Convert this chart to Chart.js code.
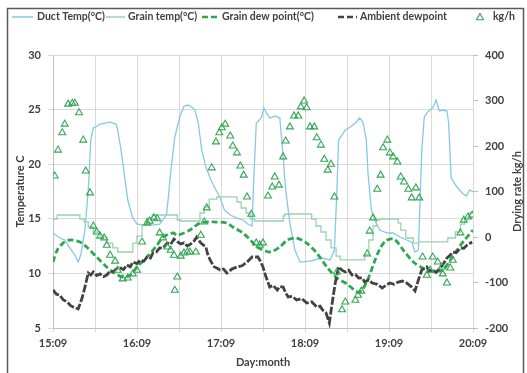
<!DOCTYPE html>
<html><head><meta charset="utf-8">
<script src="https://cdn.jsdelivr.net/npm/chart.js@4.4.0/dist/chart.umd.min.js"></script>
<style>html,body{margin:0;padding:0;background:#fff;}#wrap{width:527px;height:373px;}</style>
</head><body><div id="wrap"><canvas id="c" width="527" height="373"></canvas></div>
<script>
// x values are days after 15:09 (0 = 15:09, 5 = 20:09)
const dayLabels = ['15:09','16:09','17:09','18:09','19:09','20:09'];
const seriesNames = ['Duct Temp(°C)','Grain temp(°C)','Grain dew point(°C)','Ambient dewpoint','kg/h'];
const axisTitles = {x:'Day:month', y:'Temperature C', y1:'Drying rate kg/h'};

const ductTemp = [[0.00,13.70],[0.08,13.24],[0.14,13.06],[0.20,12.33],[0.26,11.68],[0.30,11.04],[0.33,11.68],[0.38,13.97],[0.42,17.64],[0.45,22.22],[0.48,23.32],[0.51,23.41],[0.56,23.68],[0.62,23.77],[0.68,23.86],[0.75,23.68],[0.77,23.13],[0.81,21.30],[0.85,19.01],[0.89,16.72],[0.95,15.07],[1.00,14.52],[1.10,14.43],[1.18,14.43],[1.27,14.52],[1.35,15.35],[1.37,16.72],[1.40,19.19],[1.45,22.49],[1.51,24.32],[1.56,25.33],[1.61,25.42],[1.65,25.24],[1.69,24.96],[1.73,23.77],[1.77,21.30],[1.82,19.74],[1.88,18.55],[1.94,17.64],[1.99,16.90],[2.04,15.81],[2.11,15.35],[2.19,15.07],[2.26,14.89],[2.32,14.52],[2.37,14.34],[2.39,18.55],[2.42,23.77],[2.48,24.23],[2.51,25.15],[2.54,24.69],[2.58,24.23],[2.65,24.41],[2.70,24.23],[2.74,20.66],[2.77,17.64],[2.82,14.61],[2.88,12.14],[2.94,11.04],[3.06,11.13],[3.20,11.41],[3.30,11.23],[3.35,12.14],[3.38,17.64],[3.40,22.22],[3.48,23.13],[3.54,23.41],[3.60,23.77],[3.65,24.23],[3.69,23.86],[3.73,22.22],[3.75,19.19],[3.79,15.81],[3.83,14.89],[3.89,13.97],[3.98,13.70],[4.05,13.70],[4.13,13.33],[4.21,13.06],[4.27,12.88],[4.31,11.96],[4.35,12.14],[4.37,16.72],[4.39,21.30],[4.42,24.32],[4.46,24.78],[4.52,25.15],[4.56,25.88],[4.60,24.87],[4.64,24.96],[4.69,24.87],[4.71,23.77],[4.74,18.74],[4.80,18.00],[4.87,17.36],[4.92,17.09],[4.96,17.64],[5.00,17.45]];

const grainTemp = [[0.00,13.79],[0.05,14.98],[0.08,15.35],[0.32,15.35],[0.37,14.98],[0.42,14.71],[0.48,14.25],[0.56,13.79],[0.64,13.33],[0.71,12.78],[0.77,12.33],[0.82,11.96],[0.95,11.96],[1.00,12.78],[1.06,13.42],[1.12,14.43],[1.18,15.07],[1.21,15.35],[1.48,15.35],[1.52,14.89],[1.75,14.80],[1.80,15.53],[1.86,16.08],[1.95,16.81],[2.19,17.00],[2.24,16.54],[2.30,15.99],[2.35,15.53],[2.40,14.98],[2.74,14.80],[2.76,15.26],[3.08,15.44],[3.13,14.98],[3.19,14.34],[3.25,13.79],[3.31,13.06],[3.37,12.33],[3.42,11.59],[3.45,11.23],[3.71,11.23],[3.76,11.77],[3.81,13.06],[3.85,14.34],[3.89,14.89],[4.11,14.98],[4.14,14.61],[4.20,13.97],[4.29,13.24],[4.35,12.78],[4.70,12.88],[4.79,13.24],[4.85,13.79],[4.90,14.52],[4.95,15.07],[5.00,15.53]];

const grainDewPoint = [[0.00,11.04],[0.05,12.14],[0.12,12.78],[0.20,13.06],[0.32,12.88],[0.40,12.42],[0.52,11.50],[0.64,10.59],[0.71,10.13],[0.83,9.67],[0.92,9.85],[1.00,10.59],[1.12,11.50],[1.24,12.60],[1.31,13.33],[1.43,13.70],[1.48,13.50],[1.63,13.97],[1.75,14.61],[1.90,14.71],[2.07,14.61],[2.14,14.25],[2.26,13.70],[2.35,13.06],[2.43,12.42],[2.58,11.96],[2.70,12.42],[2.79,13.06],[2.90,13.24],[3.02,12.78],[3.14,11.87],[3.26,10.59],[3.38,9.58],[3.50,9.03],[3.62,8.30],[3.68,8.48],[3.76,9.67],[3.82,10.95],[3.89,12.23],[3.96,12.97],[4.06,13.15],[4.17,12.14],[4.29,11.04],[4.40,10.50],[4.52,10.22],[4.64,10.31],[4.73,11.23],[4.81,12.14],[4.90,13.06],[5.00,13.97]];

const ambientDewPoint = [[0.00,8.48],[0.04,8.10],[0.08,8.02],[0.12,7.60],[0.17,7.38],[0.21,7.05],[0.24,6.92],[0.30,6.74],[0.35,7.84],[0.38,8.75],[0.42,10.04],[0.45,9.85],[0.48,10.13],[0.52,9.80],[0.56,9.95],[0.60,9.70],[0.64,9.85],[0.68,10.20],[0.71,10.13],[0.76,10.45],[0.80,10.50],[0.84,10.35],[0.88,10.77],[0.92,10.60],[0.95,11.04],[1.00,10.90],[1.04,11.23],[1.08,11.10],[1.12,11.50],[1.16,11.40],[1.19,11.87],[1.23,11.95],[1.27,12.33],[1.31,12.30],[1.36,12.78],[1.40,12.65],[1.44,13.15],[1.48,12.90],[1.52,12.69],[1.56,12.80],[1.60,12.51],[1.64,12.70],[1.68,12.97],[1.71,13.33],[1.76,12.78],[1.82,12.42],[1.84,11.80],[1.87,11.23],[1.92,10.59],[1.95,10.50],[1.99,10.31],[2.03,10.40],[2.07,10.04],[2.13,10.40],[2.19,10.59],[2.25,10.70],[2.31,11.04],[2.37,11.50],[2.44,11.50],[2.47,11.10],[2.50,10.59],[2.53,9.80],[2.55,9.40],[2.58,8.75],[2.62,8.90],[2.67,8.48],[2.70,8.80],[2.74,8.75],[2.77,8.20],[2.80,7.84],[2.85,7.90],[2.90,7.56],[2.96,7.70],[3.02,7.29],[3.08,7.40],[3.14,6.92],[3.18,7.00],[3.21,6.65],[3.25,6.40],[3.29,5.46],[3.32,7.11],[3.36,9.12],[3.40,10.59],[3.44,10.30],[3.48,10.13],[3.52,10.30],[3.56,9.85],[3.60,9.90],[3.64,9.58],[3.68,9.60],[3.71,9.21],[3.76,9.40],[3.80,9.12],[3.86,9.00],[3.92,8.66],[3.96,8.90],[4.01,9.12],[4.06,9.00],[4.11,9.21],[4.16,9.30],[4.21,9.12],[4.27,8.75],[4.31,8.39],[4.35,9.40],[4.39,10.31],[4.45,10.59],[4.48,10.20],[4.52,10.31],[4.56,10.10],[4.61,10.50],[4.65,10.90],[4.69,11.41],[4.72,11.60],[4.76,11.96],[4.80,11.90],[4.85,12.33],[4.89,12.30],[4.93,12.60],[4.99,12.88]];

const dryingRate = [[0.02,134],[0.06,191],[0.11,229],[0.14,248],[0.18,292],[0.23,294],[0.26,294],[0.31,273],[0.36,213],[0.39,145],[0.44,97],[0.48,24],[0.52,11],[0.56,2],[0.61,-2],[0.64,-18],[0.68,-40],[0.74,-53],[0.77,-73],[0.83,-92],[0.89,-90],[0.95,-81],[1.00,-73],[1.06,-11],[1.12,31],[1.15,35],[1.20,42],[1.24,40],[1.27,9],[1.31,-2],[1.36,-22],[1.40,-29],[1.44,-40],[1.48,-88],[1.45,-117],[1.52,-42],[1.56,-35],[1.60,-33],[1.63,-33],[1.70,-33],[1.76,4],[1.80,33],[1.83,64],[1.89,152],[1.94,209],[1.98,229],[2.01,240],[2.05,248],[2.11,222],[2.14,200],[2.19,185],[2.23,156],[2.27,136],[2.31,88],[2.36,50],[2.42,-13],[2.46,-18],[2.50,-13],[2.56,90],[2.61,110],[2.64,132],[2.69,114],[2.74,176],[2.77,211],[2.82,242],[2.87,266],[2.92,266],[2.95,286],[2.99,299],[3.02,284],[3.06,242],[3.11,242],[3.14,218],[3.19,202],[3.23,171],[3.27,147],[3.31,160],[3.35,88],[3.38,-77],[3.44,-160],[3.48,-143],[3.60,-139],[3.63,-128],[3.67,-119],[3.74,-37],[3.77,13],[3.81,42],[3.86,105],[3.90,136],[3.93,196],[3.98,213],[4.01,185],[4.05,176],[4.10,165],[4.14,132],[4.18,121],[4.23,105],[4.27,86],[4.32,108],[4.36,86],[4.40,-44],[4.45,-84],[4.49,-73],[4.52,-44],[4.58,-55],[4.63,-66],[4.64,-81],[4.69,-101],[4.73,-68],[4.76,-51],[4.85,9],[4.89,37],[4.94,44],[4.99,48]];

const FONT = 'Lato, "Open Sans", sans-serif';
const TXT = '#404040';
const COL = {duct:'#86c8e6', grain:'#98d4b0', dew:'#2ea84e', amb:'#434343', kg:'#35a655'};
const xy = a => a.map(p => ({x:p[0], y:p[1]}));

const decor = {
  id:'decor',
  beforeDraw(chart){
    const c = chart.ctx; c.save(); c.fillStyle='#fff'; c.fillRect(0,0,chart.width,chart.height); c.restore();
  },
  afterDraw(chart){
    const c = chart.ctx, a = chart.chartArea;
    c.save();
    c.strokeStyle='#5a5a5a'; c.lineWidth=1.5;
    c.strokeRect(7.5,8.5,516,366);
    c.fillStyle=TXT;
    c.font=`bold 11px ${FONT}`;
    c.textAlign='center'; c.textBaseline='middle';
    c.fillText(axisTitles.x,(a.left+a.right)/2,362);
    c.save(); c.translate(20,(a.top+a.bottom)/2); c.rotate(-Math.PI/2); c.fillText(axisTitles.y,0,0); c.restore();
    c.save(); c.translate(517,(a.top+a.bottom)/2); c.rotate(-Math.PI/2); c.fillText(axisTitles.y1,0,0); c.restore();
    const ly = 17;
    const items = [
      {sx:12, ex:33, tx:37, col:COL.duct, w:1.5, dash:[]},
      {sx:106, ex:125, tx:128, col:COL.grain, w:1.5, dash:[]},
      {sx:202, ex:219, tx:222, col:COL.dew, w:2.5, dash:[6,3]},
      {sx:338, ex:357, tx:360, col:COL.amb, w:2.5, dash:[6,3]},
      {tri:480, tx:493, col:COL.kg}
    ];
    c.font=`bold 10.5px ${FONT}`; c.textAlign='left';
    items.forEach((it,i)=>{
      c.save();
      c.strokeStyle=it.col;
      if(it.tri){
        c.lineWidth=1.1; c.beginPath();
        c.moveTo(it.tri,ly-3.5); c.lineTo(it.tri+3.5,ly+2.8); c.lineTo(it.tri-3.5,ly+2.8); c.closePath(); c.stroke();
      } else {
        c.lineWidth=it.w; c.setLineDash(it.dash); c.beginPath(); c.moveTo(it.sx,ly); c.lineTo(it.ex,ly); c.stroke();
      }
      c.restore();
      c.fillStyle=TXT; c.fillText(seriesNames[i],it.tx,ly);
    });
    c.restore();
  }
};

const tickFont = {family:FONT, size:11, weight:'bold'};

new Chart(document.getElementById('c'), {
  type:'line',
  data:{datasets:[
    {label:seriesNames[0], data:xy(ductTemp), yAxisID:'y', borderColor:COL.duct, borderWidth:1.3, pointRadius:0, order:5, tension:0},
    {label:seriesNames[1], data:xy(grainTemp), yAxisID:'y', borderColor:COL.grain, borderWidth:1.3, pointRadius:0, order:4, stepped:'after'},
    {label:seriesNames[2], data:xy(grainDewPoint), yAxisID:'y', borderColor:COL.dew, borderWidth:2.8, borderDash:[6,3], pointRadius:0, order:3, tension:0.3},
    {label:seriesNames[3], data:xy(ambientDewPoint), yAxisID:'y', borderColor:COL.amb, borderWidth:2.8, borderDash:[8,2], pointRadius:0, order:2, tension:0},
    {label:seriesNames[4], data:xy(dryingRate), yAxisID:'y1', type:'scatter', showLine:false, pointStyle:'triangle', pointRadius:4, borderWidth:1.1, borderColor:COL.kg, backgroundColor:'rgba(255,255,255,0)', order:1}
  ]},
  options:{
    responsive:false, animation:false, devicePixelRatio:1,
    layout:{padding:{top:55,left:0,right:0,bottom:0}},
    plugins:{legend:{display:false}, tooltip:{enabled:false}},
    scales:{
      x:{type:'linear', min:0, max:5, afterFit:s=>{s.height=45;},
        ticks:{stepSize:0.5, autoSkip:false, maxRotation:0, font:tickFont, color:TXT, padding:5,
          callback:v=>Number.isInteger(v)?dayLabels[v]:''},
        grid:{color:'#d9d9d9', tickLength:4}, border:{color:'#bfbfbf'}},
      y:{position:'left', min:5, max:30, afterFit:s=>{s.width=53;},
        ticks:{stepSize:5, font:tickFont, color:TXT, padding:7},
        grid:{color:'#d9d9d9', tickLength:5}, border:{color:'#bfbfbf'}},
      y1:{position:'right', min:-200, max:400, afterFit:s=>{s.width=54;},
        ticks:{stepSize:100, font:tickFont, color:TXT, padding:7},
        grid:{drawOnChartArea:false, color:'#bfbfbf', tickLength:5}, border:{display:false}}
    }
  },
  plugins:[decor]
});
</script></body></html>
